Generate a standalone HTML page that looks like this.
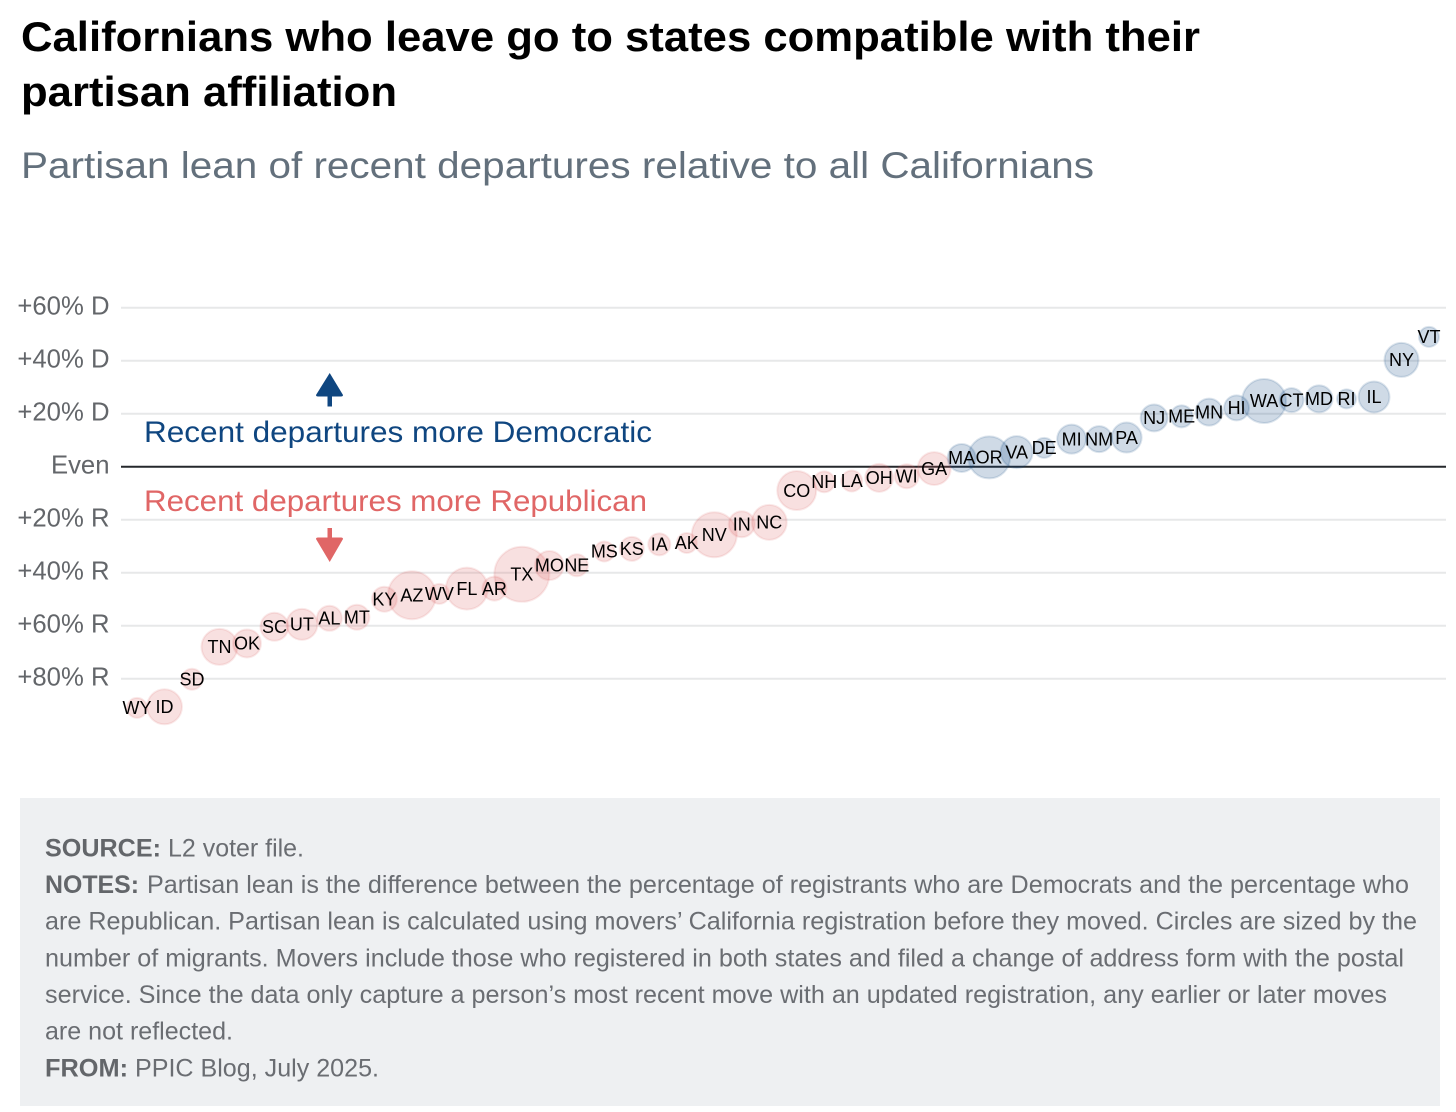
<!DOCTYPE html>
<html lang="en">
<head>
<meta charset="utf-8">
<title>Californians who leave go to states compatible with their partisan affiliation</title>
<style>
html,body{margin:0;padding:0;background:#fff;width:1456px;height:1112px;overflow:hidden}
svg{display:block}
text{font-family:"Liberation Sans",Arial,sans-serif}
</style>
</head>
<body>
<svg id="chart" width="1456" height="1112" viewBox="0 0 1456 1112" xmlns="http://www.w3.org/2000/svg">
  <text x="21" y="51" font-size="42" font-weight="700" fill="#000" textLength="1179" lengthAdjust="spacingAndGlyphs">Californians who leave go to states compatible with their</text>
  <text x="21" y="106" font-size="42" font-weight="700" fill="#000" textLength="376" lengthAdjust="spacingAndGlyphs">partisan affiliation</text>
  <text x="21" y="178" font-size="37.5" fill="#63707c" textLength="1073" lengthAdjust="spacingAndGlyphs">Partisan lean of recent departures relative to all Californians</text>

  <g id="grid"></g>
  <g id="ticks"></g>
  <g id="bubbles"></g>
  <g id="labels"></g>

  <text x="144" y="442" font-size="30" fill="#0f4680" textLength="508" lengthAdjust="spacingAndGlyphs">Recent departures more Democratic</text>
  <text x="144" y="511" font-size="30" fill="#e06666" textLength="503" lengthAdjust="spacingAndGlyphs">Recent departures more Republican</text>

  <g>
    <rect x="327.5" y="394" width="4.5" height="12.5" fill="#0f4680"/>
    <path d="M329.7 373 L343 395 Q343 396.5 341 396.5 L318 396.5 Q316 396.5 316 395 Z" fill="#0f4680"/>
  </g>
  <g>
    <rect x="327.5" y="528" width="4.5" height="12" fill="#e06666"/>
    <path d="M329.7 562 L343 539 Q343 537.5 341 537.5 L318 537.5 Q316 537.5 316 539 Z" fill="#e06666"/>
  </g>

  <g>
    <rect x="20" y="798" width="1420" height="308" fill="#eef0f2"/>
    <g font-size="25" fill="#6a6d72">
      <text x="45" y="856.5" font-weight="700" fill="#63666a" textLength="116" lengthAdjust="spacingAndGlyphs">SOURCE:</text>
      <text x="168" y="856.5" textLength="136" lengthAdjust="spacingAndGlyphs">L2 voter file.</text>
      <text x="45" y="893" font-weight="700" fill="#63666a" textLength="94" lengthAdjust="spacingAndGlyphs">NOTES:</text>
      <text x="147" y="893" textLength="1262" lengthAdjust="spacingAndGlyphs">Partisan lean is the difference between the percentage of registrants who are Democrats and the percentage who</text>
      <text x="45" y="929.7" textLength="1372" lengthAdjust="spacingAndGlyphs">are Republican. Partisan lean is calculated using movers’ California registration before they moved. Circles are sized by the</text>
      <text x="45" y="966.4" textLength="1359" lengthAdjust="spacingAndGlyphs">number of migrants. Movers include those who registered in both states and filed a change of address form with the postal</text>
      <text x="45" y="1003" textLength="1342" lengthAdjust="spacingAndGlyphs">service. Since the data only capture a person’s most recent move with an updated registration, any earlier or later moves</text>
      <text x="45" y="1039.7" textLength="188" lengthAdjust="spacingAndGlyphs">are not reflected.</text>
      <text x="45" y="1076.3" font-weight="700" fill="#63666a" textLength="83" lengthAdjust="spacingAndGlyphs">FROM:</text>
      <text x="135" y="1076.3" textLength="244" lengthAdjust="spacingAndGlyphs">PPIC Blog, July 2025.</text>
    </g>
  </g>
</svg>
<script>
var states = ["WY","ID","SD","TN","OK","SC","UT","AL","MT","KY","AZ","WV","FL","AR","TX","MO","NE","MS","KS","IA","AK","NV","IN","NC","CO","NH","LA","OH","WI","GA","MA","OR","VA","DE","MI","NM","PA","NJ","ME","MN","HI","WA","CT","MD","RI","IL","NY","VT"];
var lean = [-91,-90.6,-80.2,-68,-66.7,-60.4,-59.5,-57.2,-56.8,-50,-48.5,-48,-46,-46,-40.6,-37.3,-37.2,-32,-31,-29.3,-28.8,-25.7,-21.7,-21,-9,-5.7,-5.4,-4.2,-3.6,-0.7,3.3,3.5,5.5,7.1,10.4,10.4,11,18.4,19,20.6,22.2,24.8,25.1,25.6,25.6,26.3,40.3,49];
var migrants = [100,306,110,324,196,196,240,156,156,156,576,100,441,144,756,210,121,100,144,121,100,506,169,306,380,110,110,196,144,272,196,441,256,100,210,169,225,182,121,182,156,484,144,182,90,240,289,100];
var tickValues = [60,40,20,0,-20,-40,-60,-80];
var tickLabels = ["+60% D","+40% D","+20% D","Even","+20% R","+40% R","+60% R","+80% R"];

var NS = "http://www.w3.org/2000/svg";
function xScale(i) { return 137 + i * (1292 / (states.length - 1)); }
function yScale(v) { return 466.7 - v * 2.65; }
function rScale(m) { return Math.sqrt(m); }

var gridG = document.getElementById("grid");
var ticksG = document.getElementById("ticks");
var bubblesG = document.getElementById("bubbles");
var labelsG = document.getElementById("labels");

tickValues.forEach(function (v, i) {
  var line = document.createElementNS(NS, "line");
  line.setAttribute("x1", 121);
  line.setAttribute("x2", 1446);
  line.setAttribute("y1", yScale(v));
  line.setAttribute("y2", yScale(v));
  line.setAttribute("stroke", v === 0 ? "#25282c" : "#e7e8e9");
  line.setAttribute("stroke-width", 2);
  
  
  gridG.appendChild(line);

  var t = document.createElementNS(NS, "text");
  t.setAttribute("x", 109.5);
  t.setAttribute("y", yScale(v) + 7);
  t.setAttribute("text-anchor", "end");
  t.setAttribute("font-size", "25.7");
  t.setAttribute("fill", "#63666a");
  t.textContent = tickLabels[i];
  
  
  ticksG.appendChild(t);
});

states.forEach(function (s, i) {
  var dem = lean[i] > 0;
  var c = document.createElementNS(NS, "circle");
  c.setAttribute("cx", xScale(i));
  c.setAttribute("cy", yScale(lean[i]));
  c.setAttribute("r", rScale(migrants[i]));
  c.setAttribute("fill", dem ? "rgba(15,70,128,0.2)" : "rgba(220,90,90,0.19)");
  c.setAttribute("stroke", dem ? "rgba(15,70,128,0.14)" : "rgba(220,90,90,0.13)");
  c.setAttribute("stroke-width", 2);
  
  
  bubblesG.appendChild(c);

  var t = document.createElementNS(NS, "text");
  t.setAttribute("x", xScale(i));
  t.setAttribute("y", yScale(lean[i]) + 6.2);
  t.setAttribute("text-anchor", "middle");
  t.setAttribute("font-size", "18");
  t.setAttribute("fill", "#000");
  t.textContent = s;
  
  
  labelsG.appendChild(t);
});
</script>
</body>
</html>
